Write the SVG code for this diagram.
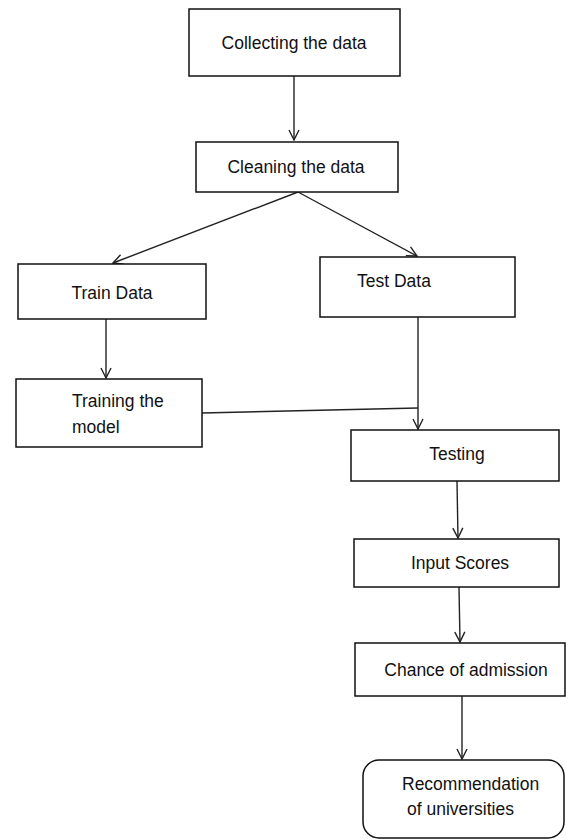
<svg xmlns="http://www.w3.org/2000/svg" width="566" height="840" viewBox="0 0 566 840">
<defs>
<style>
.box{fill:#fff;stroke:#111;stroke-width:1.5}
.t{font-family:"Liberation Sans",Arial,sans-serif;font-size:17.5px;fill:#111}
.c{text-anchor:middle}
.ln{fill:none;stroke:#222;stroke-width:1.4}
</style>
<marker id="ah" viewBox="0 0 12 12" refX="11" refY="6" markerWidth="12" markerHeight="12" markerUnits="userSpaceOnUse" orient="auto">
<polyline points="1,1 11,6 1,11" fill="none" stroke="#222" stroke-width="1.4"/>
</marker>
</defs>
<rect width="566" height="840" fill="#fff"/>
<g id="connectors">
<line class="ln" x1="294" y1="76" x2="294" y2="140" marker-end="url(#ah)"/>
<line class="ln" x1="298" y1="192" x2="113" y2="263" marker-end="url(#ah)"/>
<line class="ln" x1="298" y1="192" x2="417" y2="256" marker-end="url(#ah)"/>
<line class="ln" x1="106" y1="319" x2="106" y2="378" marker-end="url(#ah)"/>
<line class="ln" x1="418" y1="317" x2="418" y2="429" marker-end="url(#ah)"/>
<line class="ln" x1="202" y1="413" x2="418" y2="408"/>
<line class="ln" x1="457" y1="481" x2="458" y2="538" marker-end="url(#ah)"/>
<line class="ln" x1="459" y1="587" x2="460" y2="642" marker-end="url(#ah)"/>
<line class="ln" x1="462" y1="696" x2="462" y2="759" marker-end="url(#ah)"/>
</g>
<g id="collecting">
<rect class="box" x="189" y="9" width="211" height="67"/>
<text class="t c" x="294" y="49">Collecting the data</text>
</g>
<g id="cleaning">
<rect class="box" x="196" y="142" width="202" height="50"/>
<text class="t c" x="296" y="173">Cleaning the data</text>
</g>
<g id="train">
<rect class="box" x="18" y="264" width="188" height="55"/>
<text class="t c" x="112" y="299">Train Data</text>
</g>
<g id="test">
<rect class="box" x="320" y="257" width="195" height="60"/>
<text class="t" x="357" y="287">Test Data</text>
</g>
<g id="training">
<rect class="box" x="16" y="379" width="186" height="68"/>
<text class="t" x="72" y="407">Training the</text>
<text class="t" x="72" y="433">model</text>
</g>
<g id="testing">
<rect class="box" x="351" y="430" width="208" height="51"/>
<text class="t c" x="457" y="460">Testing</text>
</g>
<g id="input">
<rect class="box" x="354" y="539" width="205" height="48"/>
<text class="t c" x="460" y="569">Input Scores</text>
</g>
<g id="chance">
<rect class="box" x="355" y="643" width="210" height="53"/>
<text class="t c" x="466" y="676">Chance of admission</text>
</g>
<g id="recommendation">
<rect class="box" x="363" y="760" width="201" height="78" rx="16" ry="16"/>
<text class="t" x="402" y="790">Recommendation</text>
<text class="t" x="407" y="815">of universities</text>
</g>
</svg>
